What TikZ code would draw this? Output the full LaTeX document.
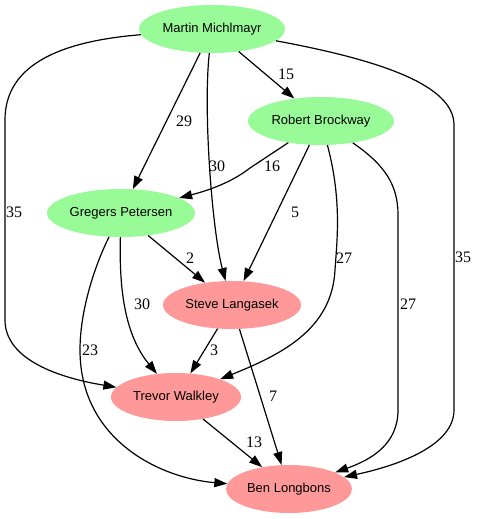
\documentclass[tikz,border=0pt]{standalone}
\usepackage{fontspec}
\setmainfont{Liberation Serif}
\newfontfamily\namefont{Liberation Sans}
\usepackage{tikz}
\usetikzlibrary{arrows.meta,shapes.geometric}
\definecolor{oldgreen}{RGB}{152,251,152}
\definecolor{newred}{RGB}{255,153,153}
\begin{document}
\begin{tikzpicture}[x=1pt,y=-1pt,
    person/.style={ellipse, inner sep=0pt, minimum height=48pt, font=\namefont\fontsize{13}{13}\selectfont},
    veteran/.style={person, fill=oldgreen},
    newbie/.style={person, fill=newred},
    edge/.style={line width=1.2pt, -{Triangle[length=13pt,width=9pt]}},
    weight/.style={inner sep=0pt, font=\fontsize{16}{16}\selectfont}]
    \useasboundingbox (0,0) rectangle (479,519);
    %%Cac nut
    \node[veteran, minimum width=146pt] (MM) at (212,29) {Martin Michlmayr};
    \node[veteran, minimum width=146pt] (RB) at (321,121) {Robert Brockway};
    \node[veteran, minimum width=148pt] (GP) at (121,213) {Gregers Petersen};
    \node[newbie, minimum width=138pt] (SL) at (232,305) {Steve Langasek};
    \node[newbie, minimum width=130pt] (TW) at (176,397) {Trevor Walkley};
    \node[newbie, minimum width=126pt] (BL) at (289,489) {Ben Longbons};
    %%Cac canh
    \draw[edge] (MM) -- (RB);
    \draw[edge] (MM) -- (GP);
    \draw[edge] (MM) .. controls (203,110) and (212,230) .. (SL);
    \draw[edge] (MM) .. controls (50,42) and (5,70) .. (5,120) -- (5,320) .. controls (5,360) and (60,378) .. (TW);
    \draw[edge] (MM) .. controls (380,60) and (454,85) .. (454,125) -- (454,410) .. controls (454,445) and (400,465) .. (BL);
    \draw[edge] (RB) -- (250,168) .. controls (232,182) and (210,190) .. (GP);
    \draw[edge] (RB) -- (SL);
    \draw[edge] (RB) .. controls (342,200) and (337,240) .. (335,270) .. controls (332,330) and (280,355) .. (TW);
    \draw[edge] (RB) .. controls (385,165) and (398,185) .. (398,215) -- (398,410) .. controls (398,445) and (370,460) .. (BL);
    \draw[edge] (GP) -- (SL);
    \draw[edge] (GP) .. controls (119,290) and (125,335) .. (TW);
    \draw[edge] (GP) .. controls (95,265) and (80,310) .. (80,350) .. controls (80,440) and (160,478) .. (BL);
    \draw[edge] (SL) -- (TW);
    \draw[edge] (SL) -- (BL);
    \draw[edge] (TW) -- (BL);
    %%Trong so
    \node[weight] (wMMRB) at (286,74) {15};
    \node[weight] (wMMGP) at (184,121) {29};
    \node[weight] (wMMSL) at (217,166) {30};
    \node[weight] (wMMTW) at (14,212) {35};
    \node[weight] (wMMBL) at (463,257) {35};
    \node[weight] (wRBGP) at (272,166) {16};
    \node[weight] (wRBSL) at (295,212) {5};
    \node[weight] (wRBTW) at (344,258) {27};
    \node[weight] (wRBBL) at (408,304) {27};
    \node[weight] (wGPSL) at (190,258) {2};
    \node[weight] (wGPTW) at (142,304) {30};
    \node[weight] (wGPBL) at (90,350) {23};
    \node[weight] (wSLTW) at (214,350) {3};
    \node[weight] (wSLBL) at (273,396) {7};
    \node[weight] (wTWBL) at (254,442) {13};
\end{tikzpicture}
\end{document}
